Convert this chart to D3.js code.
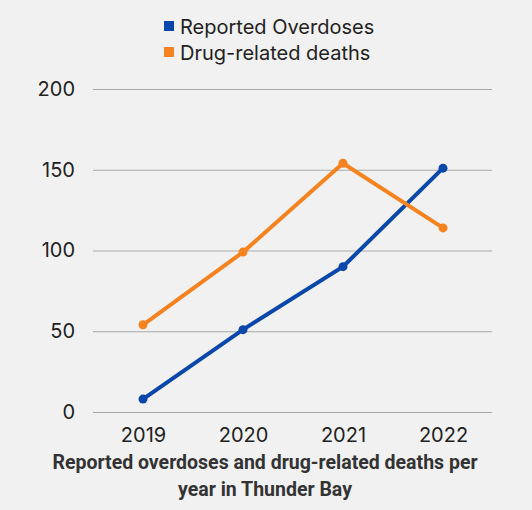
<!DOCTYPE html>
<html><head><meta charset="utf-8">
<script src="https://cdn.jsdelivr.net/npm/d3@7"></script>
<style>body{margin:0;background:#f1f1f1}</style></head>
<body><svg id="c" width="532" height="510"></svg>
<script>
const years = ["2019","2020","2021","2022"];
const overdoses = [8, 51, 90, 151];
const deaths = [54, 99, 154, 114];
const yTicks = [0, 50, 100, 150, 200];
const seriesNames = ["Reported Overdoses", "Drug-related deaths"];
const colors = ["#0a47aa", "#f5831f"];

const svg = d3.select("#c");
svg.append("rect").attr("width",532).attr("height",510).attr("fill","#f1f1f1");
const x = d3.scalePoint().domain(years).range([143,443]);
const y = d3.scaleLinear().domain([0,200]).range([412,89]);

const ya = svg.append("g").attr("transform","translate(93,0)")
  .call(d3.axisLeft(y).tickValues(yTicks).tickSize(-399).tickPadding(18));
ya.select(".domain").remove();
ya.selectAll("line").attr("stroke","#a9a9a9").attr("stroke-width",1);
ya.selectAll("text").attr("font-family","Inter, sans-serif").attr("font-size",20).attr("fill","#222");

const xa = svg.append("g").attr("transform","translate(0,412)")
  .call(d3.axisBottom(x).tickSize(0).tickPadding(16));
xa.select(".domain").remove();
xa.selectAll("text").attr("font-family","Inter, sans-serif").attr("font-size",20).attr("fill","#222");

[overdoses, deaths].forEach((vals,i)=>{
  const pts = years.map((yr,j)=>[x(yr), y(vals[j])]);
  svg.append("path").attr("d", d3.line()(pts)).attr("fill","none")
    .attr("stroke",colors[i]).attr("stroke-width",4);
  svg.selectAll(null).data(pts).enter().append("circle")
    .attr("cx",d=>d[0]).attr("cy",d=>d[1]).attr("r",4.5).attr("fill",colors[i]);
});

seriesNames.forEach((n,i)=>{
  const ly = 27 + i*26;
  svg.append("rect").attr("x",164).attr("y",ly-6).attr("width",10).attr("height",10).attr("fill",colors[i]);
  svg.append("text").attr("x",180).attr("y",ly+7).text(n)
    .attr("font-family","Inter, sans-serif").attr("font-size",20).attr("fill","#222");
});

["Reported overdoses and drug-related deaths per","year in Thunder Bay"].forEach((t,i)=>{
  svg.append("text").attr("x",265).attr("y",469+i*27).attr("text-anchor","middle").text(t)
    .attr("font-family","Roboto, sans-serif").attr("font-weight","bold").attr("font-size",19.5).attr("fill","#333");
});
</script></body></html>
